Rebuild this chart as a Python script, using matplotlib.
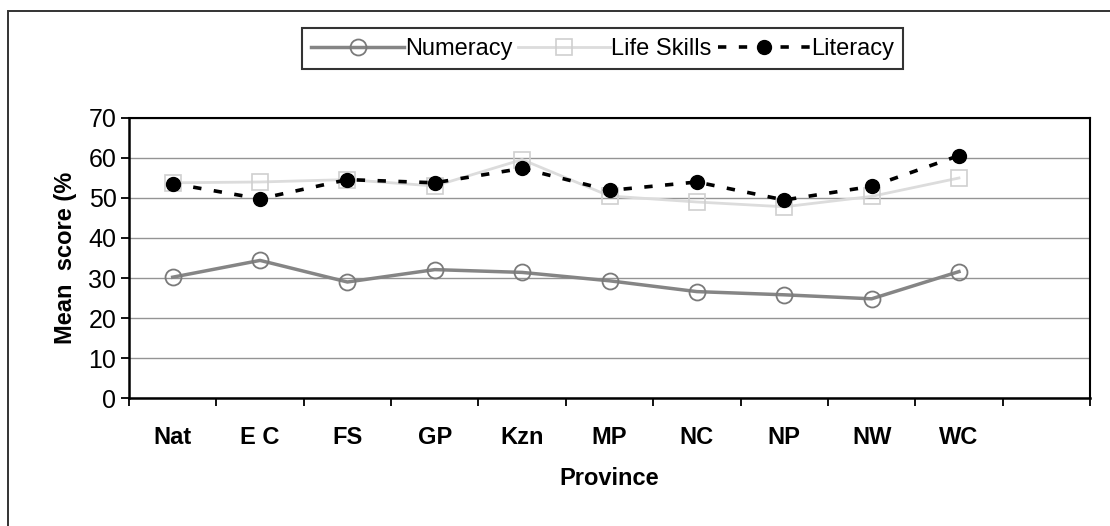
"""
Mean score by province: Numeracy, Life Skills and Literacy.
"""

import matplotlib

matplotlib.use("Agg")
import matplotlib.pyplot as plt
from matplotlib.patches import Rectangle
from matplotlib.ticker import FixedLocator

# ---------------------------------------------------------------------------
# Data
# ---------------------------------------------------------------------------

PROVINCES = ["Nat", "E C", "FS", "GP", "Kzn", "MP", "NC", "NP", "NW", "WC"]
NUMERACY = [30.2, 34.4, 29.0, 32.1, 31.4, 29.3, 26.6, 25.8, 24.8, 31.6]
LIFE_SKILLS = [53.8, 54.0, 54.6, 53.0, 59.6, 50.5, 49.0, 47.8, 50.4, 55.0]
LITERACY = [53.6, 49.8, 54.6, 53.8, 57.4, 51.9, 54.0, 49.5, 52.9, 60.6]

Y_TICKS = [0, 10, 20, 30, 40, 50, 60, 70]
N_SLOTS = 11  # ten provinces plus one empty category, as in the source

plt.rcParams["font.family"] = ["Liberation Sans", "DejaVu Sans"]
plt.rcParams["lines.scale_dashes"] = False


def main() -> None:
    fig = plt.figure(figsize=(11.10, 5.26), dpi=100)
    ax = fig.add_axes([0.1162, 0.2433, 0.8658, 0.5324])

    x = list(range(len(PROVINCES)))

    ax.plot(
        x, NUMERACY,
        color="#858585", linewidth=2.5,
        marker="o", markersize=11.5, markerfacecolor="none",
        markeredgecolor="#7a7a7a", markeredgewidth=1.3,
        label="Numeracy", zorder=3,
    )
    ax.plot(
        x, LIFE_SKILLS,
        color="#dcdcdc", linewidth=2.0,
        marker="s", markersize=11, markerfacecolor="none",
        markeredgecolor="#cfcfcf", markeredgewidth=1.2,
        label="Life Skills", zorder=3,
    )
    ax.plot(
        x, LITERACY,
        color="black", linewidth=2.6, dashes=(6, 9),
        marker="o", markersize=10, markerfacecolor="black",
        markeredgecolor="black",
        label="Literacy", zorder=4,
    )

    # Axes limits and grid
    ax.set_xlim(-0.5, N_SLOTS - 0.5)
    ax.set_ylim(0, 70)
    ax.set_yticks(Y_TICKS)
    ax.yaxis.grid(True, color="#949494", linewidth=1.0)
    ax.set_axisbelow(True)

    # Category labels centred, tick marks on the category boundaries
    ax.set_xticks(x)
    ax.set_xticklabels(PROVINCES, fontsize=17, fontweight="bold")
    ax.xaxis.set_minor_locator(FixedLocator([i - 0.5 for i in range(N_SLOTS + 1)]))
    ax.tick_params(axis="x", which="major", length=0, pad=20)
    ax.tick_params(axis="x", which="minor", length=6, width=1.3, direction="out")
    ax.tick_params(axis="y", length=6, width=1.3, direction="out",
                   labelsize=18, pad=3)

    for side in ["left", "bottom"]:
        ax.spines[side].set_linewidth(1.8)
    for side in ["top", "right"]:
        ax.spines[side].set_linewidth(1.5)

    ax.set_xlabel("Province", fontsize=17, fontweight="bold", labelpad=13)
    ax.set_ylabel("Mean  score (%", fontsize=17, fontweight="bold", labelpad=8)

    # Legend across the top
    leg = fig.legend(
        loc="center", bbox_to_anchor=(0.543, 0.907), ncol=3,
        fontsize=17, handlelength=3.9, handletextpad=0.05,
        columnspacing=0.25, frameon=True, fancybox=False,
        borderpad=0.4, borderaxespad=0.0,
    )
    leg.get_frame().set_edgecolor("black")
    leg.get_frame().set_linewidth(1.5)

    # Outer chart frame (cut by the image on the right and bottom)
    fig.patches.append(Rectangle(
        (8 / 1110, -0.05), 1.1, 1 - 11 / 526 + 0.05,
        transform=fig.transFigure, fill=False,
        edgecolor="#333333", linewidth=1.4,
    ))

    fig.savefig("out.png", dpi=100, facecolor="white")


if __name__ == "__main__":
    main()
